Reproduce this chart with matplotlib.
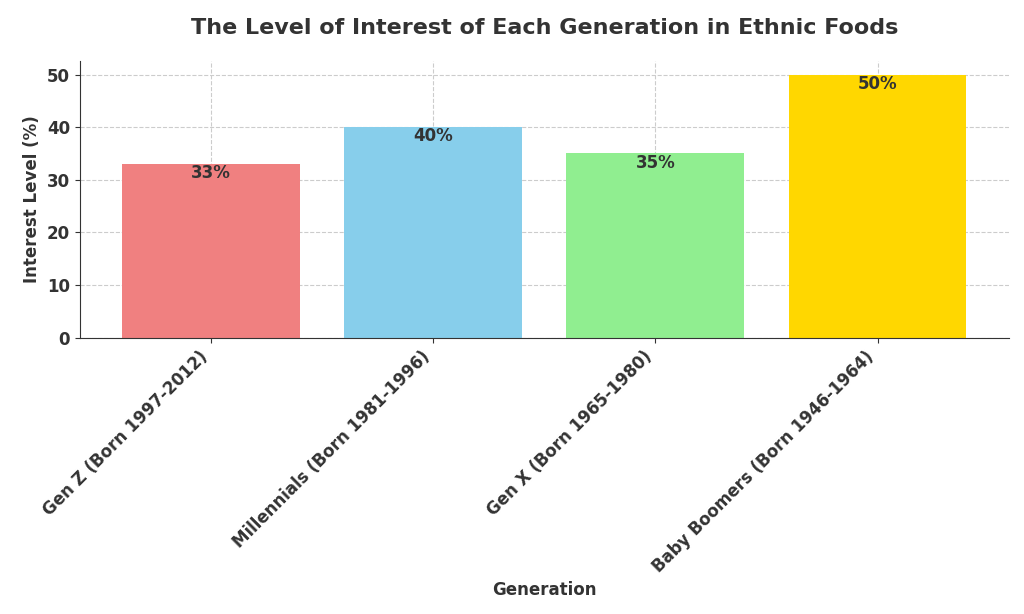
import matplotlib.pyplot as plt

generations = ['Gen Z (Born 1997-2012)', 'Millennials (Born 1981-1996)',
               'Gen X (Born 1965-1980)', 'Baby Boomers (Born 1946-1964)']
interest = [33, 40, 35, 50]
colors = ['lightcoral', 'skyblue', 'lightgreen', 'gold']

fig = plt.figure(figsize=(10.24, 6.14), dpi=100)
ax = fig.add_axes([0.078, 0.45, 0.907, 0.45])

bars = ax.bar(generations, interest, color=colors, width=0.8, zorder=2)
for b, v in zip(bars, interest):
    ax.text(b.get_x() + b.get_width() / 2, v, f'{v}%', ha='center', va='top',
            fontsize=12, fontweight='bold', color='#333333', zorder=3)

ax.set_ylim(0, 52.5)
ax.set_yticks(range(0, 51, 10))
ax.grid(True, linestyle='--', color='#cccccc', linewidth=0.8, zorder=0)
ax.set_axisbelow(True)
for s in ['top', 'right']:
    ax.spines[s].set_visible(False)
ax.spines['left'].set_color('#333333')
ax.spines['bottom'].set_color('#333333')
ax.tick_params(colors='#333333', labelsize=12)
plt.setp(ax.get_xticklabels(), rotation=45, ha='right', fontweight='bold')
plt.setp(ax.get_yticklabels(), fontweight='bold')

ax.set_title('The Level of Interest of Each Generation in Ethnic Foods',
             fontsize=16, fontweight='bold', color='#333333', pad=20)
ax.set_xlabel('Generation', fontsize=12, fontweight='bold', color='#333333')
ax.set_ylabel('Interest Level (%)', fontsize=12, fontweight='bold', color='#333333')

fig.savefig('out.png', dpi=100)
